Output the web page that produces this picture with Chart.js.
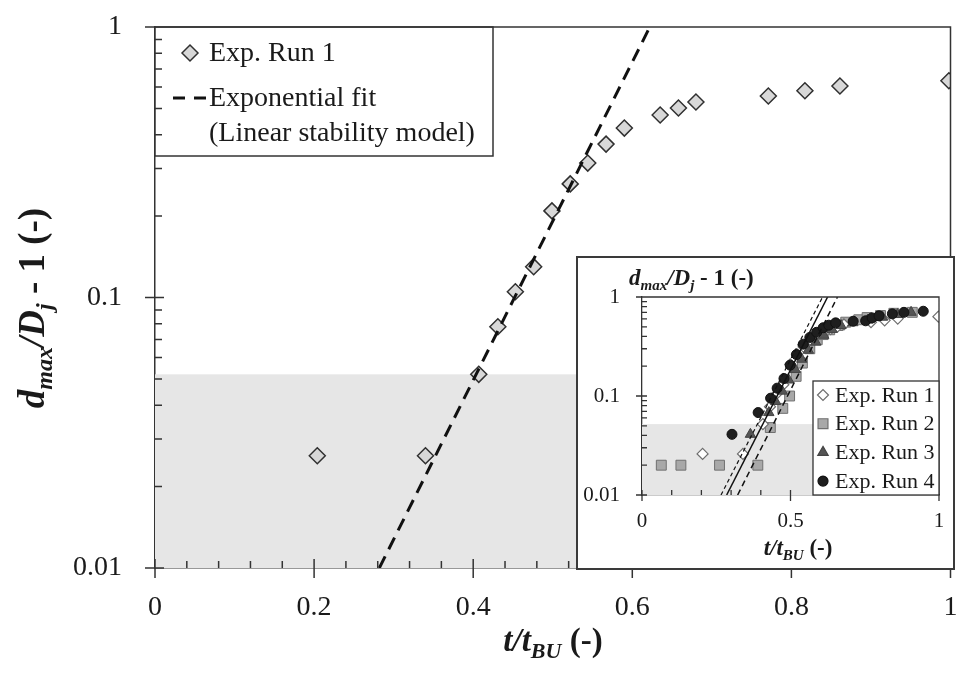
<!DOCTYPE html>
<html>
<head>
<meta charset="utf-8">
<script src="https://cdn.jsdelivr.net/npm/chart.js@4.4.1/dist/chart.umd.min.js"></script>
<style>
  html, body { margin: 0; padding: 0; background: #fff; }
  #wrap { position: relative; width: 960px; height: 675px; overflow: hidden; }
  #mainChart { position: absolute; left: 0; top: 0; }
  #insetBox { position: absolute; left: 576px; top: 256px; width: 375px; height: 310px; border: 2px solid #3a3a3a; background: #fff; }
  #insetChart { display: block; }
</style>
</head>
<body>
<div id="wrap">
  <canvas id="mainChart" width="960" height="675"></canvas>
  <div id="insetBox"><canvas id="insetChart" width="375" height="310"></canvas></div>
</div>
<script>
// Exp. Run 1 (main plot and inset)
const run1X = [0.204, 0.340, 0.407, 0.431, 0.453, 0.476, 0.499, 0.522, 0.544, 0.567, 0.590, 0.635, 0.658, 0.680, 0.771, 0.817, 0.861, 0.998];
const run1Y = [0.026, 0.026, 0.052, 0.078, 0.105, 0.130, 0.209, 0.263, 0.314, 0.369, 0.423, 0.473, 0.502, 0.528, 0.556, 0.581, 0.605, 0.633];

// exponential fit (linear stability model), straight on log axis
const fitX = [0.282, 0.622];
const fitY = [0.01, 1];

// inset runs
const run2X = [0.065, 0.131, 0.261, 0.390, 0.432, 0.474, 0.497, 0.519, 0.540, 0.565, 0.590, 0.610, 0.632, 0.660, 0.686, 0.730, 0.758, 0.803, 0.848, 0.910];
const run2Y = [0.020, 0.020, 0.020, 0.020, 0.048, 0.075, 0.100, 0.158, 0.215, 0.300, 0.370, 0.417, 0.466, 0.515, 0.557, 0.589, 0.620, 0.650, 0.685, 0.700];
const run3X = [0.365, 0.427, 0.450, 0.472, 0.494, 0.516, 0.538, 0.560, 0.585, 0.612, 0.640, 0.670, 0.710, 0.760, 0.810, 0.860, 0.906];
const run3Y = [0.041, 0.068, 0.088, 0.112, 0.145, 0.185, 0.235, 0.290, 0.350, 0.410, 0.470, 0.515, 0.550, 0.585, 0.625, 0.665, 0.700];
const run4X = [0.303, 0.391, 0.433, 0.455, 0.478, 0.499, 0.520, 0.543, 0.565, 0.588, 0.610, 0.629, 0.652, 0.711, 0.753, 0.775, 0.798, 0.843, 0.882, 0.947];
const run4Y = [0.041, 0.068, 0.095, 0.120, 0.150, 0.205, 0.262, 0.334, 0.390, 0.440, 0.489, 0.519, 0.548, 0.569, 0.575, 0.615, 0.645, 0.676, 0.700, 0.718];

// inset fits
const fitAX = [0.266, 0.608];
const fitBX = [0.285, 0.625];
const fitCX = [0.322, 0.658];
const fitInsetY = [0.01, 1];

// shaded zone
const shadeX = [0, 0.58];
const shadeY = [0.01, 0.052];

// ticks
const mainXTicks = [0, 0.2, 0.4, 0.6, 0.8, 1];
const mainXLabels = ['0', '0.2', '0.4', '0.6', '0.8', '1'];
const insetXTicks = [0, 0.5, 1];
const insetXLabels = ['0', '0.5', '1'];
const yTicks = [0.01, 0.1, 1];
const yLabels = ['0.01', '0.1', '1'];

const SERIF = '"Liberation Serif", "Times New Roman", serif';
const INK = '#1a1a1a';

function pts(xs, ys) {
  return xs.map((x, i) => ({ x: x, y: ys[i] }));
}

function richText(ctx, parts, x, y, align) {
  let w = 0;
  parts.forEach(p => { ctx.font = p.font; p.w = ctx.measureText(p.text).width; w += p.w; });
  let cx = align === 'center' ? x - w / 2 : x;
  ctx.textAlign = 'left';
  ctx.textBaseline = 'alphabetic';
  parts.forEach(p => {
    ctx.font = p.font;
    ctx.fillText(p.text, cx, y + (p.dy || 0));
    cx += p.w;
  });
}

function drawShade(chart) {
  const { ctx, scales: { x, y } } = chart;
  const x0 = x.getPixelForValue(shadeX[0]), x1 = x.getPixelForValue(shadeX[1]);
  const y0 = y.getPixelForValue(shadeY[0]), y1 = y.getPixelForValue(shadeY[1]);
  ctx.save();
  ctx.fillStyle = '#e6e6e6';
  ctx.fillRect(x0, y1, x1 - x0, y0 - y1);
  ctx.restore();
}

function drawFrameAndTicks(chart, t) {
  const { ctx, chartArea: a, scales: { x, y } } = chart;
  ctx.save();
  ctx.strokeStyle = '#333';
  ctx.lineWidth = t.width;
  ctx.beginPath();
  // top and right of the frame
  ctx.moveTo(a.left, a.top); ctx.lineTo(a.right, a.top); ctx.lineTo(a.right, a.bottom);
  // x minor ticks (inside)
  for (let v = 0; v <= 1.0001; v += t.xMinor) {
    const px = x.getPixelForValue(v);
    ctx.moveTo(px, a.bottom); ctx.lineTo(px, a.bottom - t.minorLen);
  }
  // x major ticks (cross)
  t.xMajor.forEach(v => {
    const px = x.getPixelForValue(v);
    ctx.moveTo(px, a.bottom + t.majorOut); ctx.lineTo(px, a.bottom - t.majorIn);
  });
  // y minor ticks
  [0.01, 0.1].forEach(d => {
    for (let k = 2; k <= 9; k++) {
      const py = y.getPixelForValue(d * k);
      ctx.moveTo(a.left, py); ctx.lineTo(a.left + t.minorLen, py);
    }
  });
  yTicks.forEach(v => {
    const py = y.getPixelForValue(v);
    ctx.moveTo(a.left - t.majorOut, py); ctx.lineTo(a.left + t.majorIn, py);
  });
  ctx.stroke();
  ctx.restore();
}

const mainDecor = {
  id: 'mainDecor',
  beforeDatasetsDraw(chart) { drawShade(chart); },
  afterDatasetsDraw(chart) {
    const { ctx, chartArea: a } = chart;
    // legend box
    ctx.save();
    ctx.fillStyle = '#fff';
    ctx.strokeStyle = '#333';
    ctx.lineWidth = 1.5;
    ctx.fillRect(a.left, a.top, 338, 129);
    ctx.strokeRect(a.left, a.top, 338, 129);
    ctx.fillStyle = '#d8d8d8';
    ctx.strokeStyle = '#303030';
    ctx.lineWidth = 1.5;
    Chart.helpers.drawPoint(ctx, { pointStyle: 'rectRot', radius: 8, borderWidth: 1.5 }, a.left + 35, a.top + 26);
    ctx.strokeStyle = '#111';
    ctx.lineWidth = 3;
    ctx.beginPath();
    ctx.moveTo(a.left + 18, a.top + 71); ctx.lineTo(a.left + 30, a.top + 71);
    ctx.moveTo(a.left + 39, a.top + 71); ctx.lineTo(a.left + 51, a.top + 71);
    ctx.stroke();
    ctx.fillStyle = INK;
    ctx.font = '28px ' + SERIF;
    ctx.textAlign = 'left';
    ctx.textBaseline = 'middle';
    ctx.fillText('Exp. Run 1', a.left + 54, a.top + 27);
    ctx.fillText('Exponential fit', a.left + 54, a.top + 72);
    ctx.fillText('(Linear stability model)', a.left + 54, a.top + 107);
    ctx.restore();
    drawFrameAndTicks(chart, { width: 1.5, xMinor: 0.04, xMajor: mainXTicks, minorLen: 7, majorIn: 9, majorOut: 10 });
  },
  afterDraw(chart) {
    const ctx = chart.ctx;
    const bi = 'bold italic 33px ' + SERIF, biS = 'bold italic 22px ' + SERIF, b = 'bold 33px ' + SERIF;
    const yi = 'bold italic 37px ' + SERIF, yiS = 'bold italic 24px ' + SERIF, yb = 'bold 37px ' + SERIF;
    ctx.save();
    ctx.fillStyle = INK;
    richText(ctx, [
      { text: 't/t', font: bi }, { text: 'BU', font: biS, dy: 7 }, { text: ' (-)', font: b }
    ], 553, 651, 'center');
    ctx.translate(44, 308);
    ctx.rotate(-Math.PI / 2);
    richText(ctx, [
      { text: 'd', font: yi }, { text: 'max', font: yiS, dy: 8 }, { text: '/D', font: yi },
      { text: 'j', font: yiS, dy: 8 }, { text: ' - 1 (-)', font: yb }
    ], 0, 0, 'center');
    ctx.restore();
  }
};

const insetDecor = {
  id: 'insetDecor',
  beforeDatasetsDraw(chart) { drawShade(chart); },
  afterDatasetsDraw(chart) {
    const { ctx, chartArea: a } = chart;
    drawFrameAndTicks(chart, { width: 1.3, xMinor: 0.1, xMajor: insetXTicks, minorLen: 5, majorIn: 5, majorOut: 6 });
    // legend
    const lx = a.right - 126, ly = a.bottom - 114;
    ctx.save();
    ctx.fillStyle = '#fff';
    ctx.strokeStyle = '#333';
    ctx.lineWidth = 1.3;
    ctx.fillRect(lx, ly, 126, 114);
    ctx.strokeRect(lx, ly, 126, 114);
    const items = [
      { label: 'Exp. Run 1', style: 'rectRot', r: 5.5, fill: '#fff', stroke: '#6e6e6e' },
      { label: 'Exp. Run 2', style: 'rect', r: 7, fill: '#a8a8a8', stroke: '#707070' },
      { label: 'Exp. Run 3', style: 'triangle', r: 6, fill: '#555', stroke: '#444' },
      { label: 'Exp. Run 4', style: 'circle', r: 5, fill: '#1e1e1e', stroke: '#111' }
    ];
    items.forEach((it, i) => {
      const cy = ly + 14 + i * 28.7;
      ctx.fillStyle = it.fill;
      ctx.strokeStyle = it.stroke;
      ctx.lineWidth = 1.2;
      Chart.helpers.drawPoint(ctx, { pointStyle: it.style, radius: it.r, borderWidth: 1.2 }, lx + 10, cy);
      ctx.fillStyle = INK;
      ctx.font = '22px ' + SERIF;
      ctx.textAlign = 'left';
      ctx.textBaseline = 'middle';
      ctx.fillText(it.label, lx + 22, cy + 1);
    });
    ctx.restore();
  },
  afterDraw(chart) {
    const ctx = chart.ctx;
    const bi = 'bold italic 23px ' + SERIF, biS = 'bold italic 15px ' + SERIF, b = 'bold 23px ' + SERIF;
    ctx.save();
    ctx.fillStyle = INK;
    richText(ctx, [
      { text: 'd', font: bi }, { text: 'max', font: biS, dy: 5 }, { text: '/D', font: bi },
      { text: 'j', font: biS, dy: 5 }, { text: ' - 1 (-)', font: b }
    ], 51, 27, 'left');
    richText(ctx, [
      { text: 't/t', font: bi }, { text: 'BU', font: biS, dy: 5 }, { text: ' (-)', font: b }
    ], 220, 297, 'center');
    ctx.restore();
  }
};

// label offsets go through tickLength (grid itself hidden) so the plot area is not shrunk
function axes(cfg) {
  return {
    x: {
      type: 'linear', min: 0, max: 1,
      afterBuildTicks: s => { s.ticks = cfg.xTicks.map(v => ({ value: v })); },
      afterFit: s => { s.height = cfg.xHeight; },
      ticks: { callback: (v, i) => cfg.xLabels[i], font: { family: SERIF, size: cfg.font }, color: INK, padding: 0, maxRotation: 0, autoSkip: false },
      grid: { display: false, drawTicks: true, tickLength: cfg.xPad },
      border: { display: true, color: '#333', width: cfg.line }
    },
    y: {
      type: 'logarithmic', min: 0.01, max: 1,
      afterBuildTicks: s => { s.ticks = yTicks.map(v => ({ value: v })); },
      afterFit: s => { s.width = cfg.yWidth; },
      ticks: { callback: (v, i) => yLabels[i], font: { family: SERIF, size: cfg.font }, color: INK, padding: 0, autoSkip: false },
      grid: { display: false, drawTicks: true, tickLength: cfg.yPad },
      border: { display: true, color: '#333', width: cfg.line }
    }
  };
}

const basePlugins = { legend: { display: false }, tooltip: { enabled: false } };

new Chart(document.getElementById('mainChart'), {
  type: 'scatter',
  data: {
    datasets: [
      {
        label: 'Exponential fit', data: pts(fitX, fitY), showLine: true, pointRadius: 0,
        borderColor: '#111', borderWidth: 3, borderDash: [13, 8], order: 0
      },
      {
        label: 'Exp. Run 1', data: pts(run1X, run1Y), pointStyle: 'rectRot', pointRadius: 8,
        backgroundColor: '#d8d8d8', borderColor: '#303030', borderWidth: 1.5, order: 1
      }
    ]
  },
  options: {
    responsive: false, animation: false,
    layout: { padding: { top: 27, right: 7, left: 0, bottom: 0 } },
    scales: axes({ xTicks: mainXTicks, xLabels: mainXLabels, xHeight: 107, yWidth: 155, font: 28, xPad: 23, yPad: 33, line: 1.5 }),
    plugins: basePlugins
  },
  plugins: [mainDecor]
});

new Chart(document.getElementById('insetChart'), {
  type: 'scatter',
  data: {
    datasets: [
      { label: 'fit a', data: pts(fitAX, fitInsetY), showLine: true, pointRadius: 0, borderColor: '#111', borderWidth: 1.2, borderDash: [4, 3], order: 0 },
      { label: 'fit b', data: pts(fitBX, fitInsetY), showLine: true, pointRadius: 0, borderColor: '#111', borderWidth: 1.5, order: 0 },
      { label: 'fit c', data: pts(fitCX, fitInsetY), showLine: true, pointRadius: 0, borderColor: '#111', borderWidth: 1.5, borderDash: [6, 4], order: 0 },
      { label: 'Exp. Run 4', data: pts(run4X, run4Y), pointStyle: 'circle', pointRadius: 5, backgroundColor: '#1e1e1e', borderColor: '#111', borderWidth: 1, order: 1 },
      { label: 'Exp. Run 3', data: pts(run3X, run3Y), pointStyle: 'triangle', pointRadius: 6, backgroundColor: '#555', borderColor: '#444', borderWidth: 1, order: 2 },
      { label: 'Exp. Run 1', data: pts(run1X, run1Y), pointStyle: 'rectRot', pointRadius: 5.5, backgroundColor: '#fff', borderColor: '#6e6e6e', borderWidth: 1.2, order: 3 },
      { label: 'Exp. Run 2', data: pts(run2X, run2Y), pointStyle: 'rect', pointRadius: 7, backgroundColor: '#a8a8a8', borderColor: '#707070', borderWidth: 1, order: 4 }
    ]
  },
  options: {
    responsive: false, animation: false,
    layout: { padding: { top: 39, right: 14, left: 0, bottom: 0 } },
    scales: axes({ xTicks: insetXTicks, xLabels: insetXLabels, xHeight: 73, yWidth: 64, font: 21, xPad: 14, yPad: 22, line: 1.3 }),
    plugins: basePlugins
  },
  plugins: [insetDecor]
});
</script>
</body>
</html>
